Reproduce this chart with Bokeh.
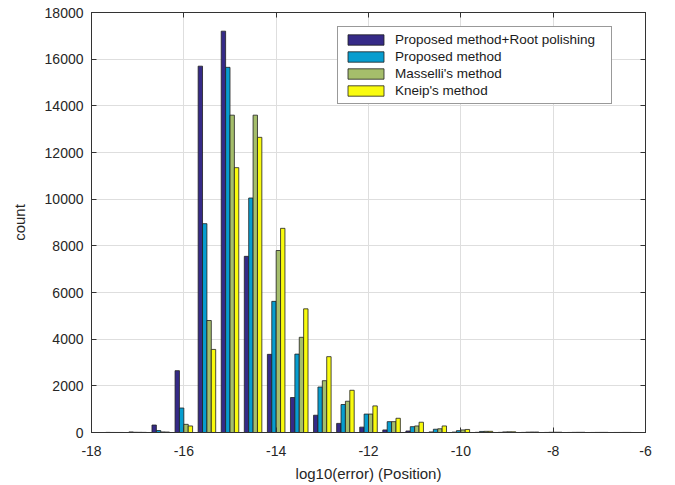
from bokeh.plotting import figure
from bokeh.models import (ColumnDataSource, Range1d, LinearAxis, SingleIntervalTicker,
                          Legend, LegendItem, CustomJSTickFormatter)
from bokeh.transform import dodge
from bokeh.embed import file_html
from bokeh.resources import INLINE

# bin centres of log10(error)
centers = [-17.5, -17.0, -16.5, -16.0, -15.5, -15.0, -14.5, -14.0, -13.5, -13.0, -12.5, -12.0,
           -11.5, -11.0, -10.5, -10.0, -9.5, -9.0, -8.5, -8.0, -7.5, -7.0, -6.5]

root_polishing = [5, 25, 320, 2650, 15700, 17200, 7550, 3350, 1500, 740, 390, 230,
                  110, 65, 25, 18, 8, 6, 4, 3, 2, 2, 1]
proposed = [2, 10, 85, 1050, 8950, 15650, 10050, 5620, 3360, 1950, 1200, 790,
            465, 250, 140, 80, 45, 25, 15, 10, 6, 4, 2]
masselli = [1, 8, 25, 350, 4800, 13600, 13600, 7800, 4080, 2220, 1340, 790,
            465, 280, 160, 110, 50, 30, 20, 12, 8, 5, 3]
kneip = [1, 5, 20, 280, 3560, 11350, 12650, 8750, 5300, 3250, 1810, 1140,
         610, 440, 280, 130, 50, 30, 20, 12, 8, 5, 3]

series_names = ["Proposed method+Root polishing", "Proposed method",
                "Masselli's method", "Kneip's method"]
colors = ["#352a87", "#079dcf", "#a5be6b", "#f9fb0e"]

x_ticks_interval = 2
y_ticks_interval = 2000

FONT = "Liberation Sans"
TXT = "#262626"
AX = "#333333"

source = ColumnDataSource(data=dict(center=centers, rp=root_polishing, pm=proposed,
                                    ma=masselli, kn=kneip))

p = figure(width=675, height=485, x_range=Range1d(-18, -6), y_range=Range1d(0, 18000),
           output_backend="svg", toolbar_location=None,
           min_border_left=91, min_border_right=30, min_border_top=12, min_border_bottom=53)
p.background_fill_color = "white"
p.border_fill_color = "white"
p.outline_line_color = AX
p.outline_line_width = 1

bw = 0.095
offsets = [-1.5 * bw, -0.5 * bw, 0.5 * bw, 1.5 * bw]
items = []
for key, name, col, off in zip(["rp", "pm", "ma", "kn"], series_names, colors, offsets):
    r = p.vbar(x=dodge("center", off, range=p.x_range), top=key, width=bw, bottom=0,
               source=source, fill_color=col, line_color="#1f1f1f", line_width=0.8)
    items.append(LegendItem(label=name, renderers=[r]))

fmt = CustomJSTickFormatter(code="return String(tick);")

xt = SingleIntervalTicker(interval=x_ticks_interval)
yt = SingleIntervalTicker(interval=y_ticks_interval)
p.xaxis.ticker = xt
p.yaxis.ticker = yt
for ax in [p.xaxis[0], p.yaxis[0]]:
    ax.formatter = fmt
    ax.major_tick_in = 5
    ax.major_tick_out = 0
    ax.minor_tick_in = 0
    ax.minor_tick_out = 0
    ax.axis_line_color = AX
    ax.major_tick_line_color = AX
    ax.major_label_text_font = FONT
    ax.major_label_text_font_size = "14px"
    ax.major_label_text_color = TXT
    ax.axis_label_text_font = FONT
    ax.axis_label_text_font_size = "15px"
    ax.axis_label_text_font_style = "normal"
    ax.axis_label_text_color = TXT

p.xaxis.axis_label = "log10(error) (Position)"
p.xaxis.major_label_standoff = 13
p.xaxis.axis_label_standoff = 6
p.yaxis.axis_label = "count"
p.yaxis.major_label_standoff = 8
p.yaxis.axis_label_standoff = 14

# mirrored axes (box with inward ticks), no labels
blank = CustomJSTickFormatter(code="return '';")
for loc, tk in [("above", SingleIntervalTicker(interval=x_ticks_interval)),
                ("right", SingleIntervalTicker(interval=y_ticks_interval))]:
    a = LinearAxis(ticker=tk, formatter=blank, major_tick_in=5, major_tick_out=0,
                   minor_tick_in=0, minor_tick_out=0, major_label_standoff=0,
                   axis_line_color=AX, major_tick_line_color=AX)
    p.add_layout(a, loc)

p.xgrid.ticker = xt
p.ygrid.ticker = yt
p.grid.grid_line_color = "#dedede"
p.grid.grid_line_width = 1

legend = Legend(items=items, location=(246, 328), orientation="vertical")
legend.label_text_font = FONT
legend.label_text_font_size = "13.5px"
legend.label_text_color = "#1a1a1a"
legend.glyph_width = 45
legend.glyph_height = 13
legend.label_height = 13
legend.label_width = 211
legend.label_standoff = 7
legend.spacing = 2
legend.padding = 5
legend.margin = 0
legend.border_line_color = AX
legend.border_line_width = 1
legend.background_fill_color = "white"
legend.background_fill_alpha = 1
p.add_layout(legend, "center")

open("out.html", "w").write(file_html(p, INLINE))
